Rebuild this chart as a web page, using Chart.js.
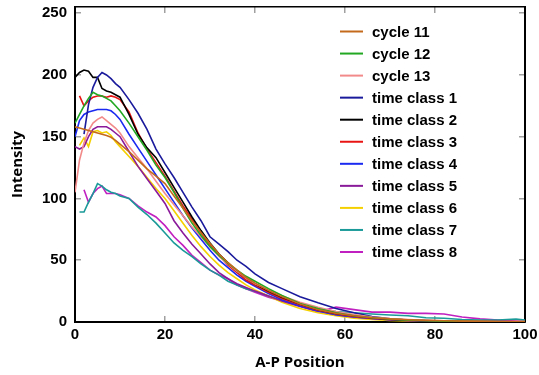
<html>
<head>
<meta charset="utf-8" />
<title>Intensity vs A-P Position</title>
<style>
  body { margin: 0; background: #fff; }
</style>
<script src="https://cdn.jsdelivr.net/npm/chart.js"></script>
</head>
<body>
<canvas id="apChart" width="539" height="375"></canvas>
<script>
// A-P positions shared by every series
const X = [0,1,2,3,4,5,6,7,8,9,10, 12,14,16,18,20,22,24,26,28,30,32,34,36,38,40,
           43,46,50,54,58,62,66,70,74,78,82,86,90,94,98,100];

const cycle11 = [158,157,156,155,154,153,152,151,149.5,147,144,
  138,131,124,118,112,102,92,82,72.5,63.5,55,48,42,36,31.5,
  25.5,20.5,14.5,10,7,5,3.5,2.5,1.8,1.3,1,0.7,0.5,0.4,0.3,0.3];
const cycle12 = [161,168,175,181,186,184,183,181,179,175,171,
  161,150,139,127,117,105,92,80,70,61,54,47.5,42,37,33,
  27,21.5,15,11,7.5,5,3.5,2.3,1.5,1,0.7,0.5,0.3,0.2,0.1,0.1];
const cycle13 = [105,131,145,155,161,164,166,163,160,157,153,
  142,133,124,114,104,95,86,77,69,61,53,47,41,36,31,
  26,21,16,12,8.5,6,4,2.8,2,1.4,1,0.7,0.5,0.4,0.3,0.3];
const timeClass1 = [null,null,152,176,190,198,202,200,197,193,190,
  180,169,156,140,128,117,105,93,82,69,63,57,50,45,39,
  32,27,20.5,15.5,11,7.5,4.5,2.5,1.5,1,0.6,0.4,0.3,0.2,0.1,0.1];
const timeClass2 = [198,202,204,203,198,198,189,187,186,184,182,
  168,152,141,133,121,109,97,85,74,64,55,48,41,36,31,
  25,20,14.5,10,7,5,3.5,2.3,1.6,1.1,0.8,0.5,0.4,0.3,0.2,0.2];
const timeClass3 = [null,183,175,179,182,183,183,182,183,182,180,
  170,153,140,129,118,106,94,83,72,62,54,46,40,34,30,
  24,19,14,9.5,6.5,4.5,3,2,1.3,0.9,0.6,0.4,0.3,0.2,0.1,0.1];
const timeClass4 = [150,163,168,170,171,172,172,172,171,168,164,
  152,141,130,119,108,97,86,76,67,58,50,44,38,33,29,
  23,18,13,9,6,4,2.8,1.8,1.2,0.8,0.5,0.3,0.2,0.1,0.1,0.1];
const timeClass5 = [142,140,142,150,156,158,158,158,156,153,150,
  138,126,116,106,96,82,72,63,55,47,40,35,31,28,25,
  21,17,12.5,9,6,4,2.8,1.8,1.2,0.8,0.5,0.3,0.2,0.1,0.1,0.1];
const timeClass6 = [null,143,149,142,154,155,153,154,151,146,142,
  134,126,117,108,100,90,80,70,61,53,46,40,35,30,26,
  21,16,11,7.5,5,3,2,1.2,0.8,0.5,0.3,0.2,0.1,0.1,0.1,0];
const timeClass7 = [null,89,89,97,104,112,110,107,105,104,102,
  100,93,87,80,72,64,58,53,47,42,38,33,30,27,25,
  21,17,14,10,8.5,7.5,6.5,5.7,5,3.5,3,2,1.6,1.6,2.4,1.5];
const timeClass8 = [null,null,107,97,104,108,110,104,104,104,103,
  100,94,89,85,78,69,62,54,48,42,38,35,30,27,24,
  20,17,13,8,12,10,8,8,7,7,6.5,4,2.5,1.6,0.8,0.5];

const seriesNames = ["cycle 11","cycle 12","cycle 13","time class 1","time class 2",
  "time class 3","time class 4","time class 5","time class 6","time class 7","time class 8"];
const seriesValues = [cycle11, cycle12, cycle13, timeClass1, timeClass2,
  timeClass3, timeClass4, timeClass5, timeClass6, timeClass7, timeClass8];
const seriesColors = ["#c46a1c","#22a822","#f28a8a","#1a1a9c","#000000",
  "#e81414","#1a2af0","#8a1a9a","#f5d000","#1a9a98","#c020c0"];

const yTicks = [0, 50, 100, 150, 200, 250];

const tickFont = { family: "'Liberation Sans', Arial, sans-serif", size: 15, weight: "bold" };
const titleFont = { family: "'Open Sans', sans-serif", size: 15, weight: "bold" };
const tickMarks = { drawOnChartArea: false, tickLength: -6, color: "#a0a0a0", lineWidth: 1.5 };
const setYTicks = (s) => { s.ticks = yTicks.map((v) => ({ value: v })); };

// legend drawn inside the plot, top right
const insideLegend = {
  id: "insideLegend",
  afterDatasetsDraw(chart) {
    const ctx = chart.ctx;
    ctx.save();
    ctx.font = "bold 15px 'Liberation Sans', Arial, sans-serif";
    ctx.textBaseline = "middle";
    ctx.fillStyle = "#000";
    chart.data.datasets.forEach((ds, i) => {
      const y = 31.5 + i * 22.05;
      ctx.strokeStyle = ds.borderColor;
      ctx.lineWidth = 2;
      ctx.beginPath();
      ctx.moveTo(340, y);
      ctx.lineTo(363, y);
      ctx.stroke();
      ctx.fillText(ds.label, 372, y + 1);
    });
    ctx.restore();
  }
};

new Chart(document.getElementById("apChart"), {
  type: "line",
  data: {
    datasets: seriesNames.map((name, i) => ({
      label: name,
      data: X.map((x, j) => ({ x: x, y: seriesValues[i][j] })),
      borderColor: seriesColors[i],
      borderWidth: 1.6,
      pointRadius: 0,
      tension: 0,
      fill: false
    }))
  },
  options: {
    responsive: false,
    animation: false,
    layout: { padding: 0 },
    plugins: { legend: { display: false }, tooltip: { enabled: false } },
    scales: {
      x: {
        type: "linear", position: "bottom", min: 0, max: 100,
        ticks: { stepSize: 20, font: tickFont, color: "#000", padding: 10, maxRotation: 0 },
        grid: tickMarks,
        border: { color: "#000", width: 2 },
        title: { display: true, text: "A-P Position", font: titleFont, color: "#000", padding: { top: 0, bottom: 3 } },
        afterFit: (s) => { s.height = 53; s.paddingLeft = 0; s.paddingRight = 0; }
      },
      y: {
        type: "linear", position: "left", min: 0, max: 255,
        afterBuildTicks: setYTicks,
        ticks: { font: tickFont, color: "#000", padding: 14 },
        grid: tickMarks,
        border: { color: "#000", width: 2 },
        title: { display: true, text: "Intensity", font: titleFont, color: "#000", padding: { top: 9, bottom: 0 } },
        afterFit: (s) => { s.width = 75; s.paddingTop = 0; s.paddingBottom = 0; }
      },
      x2: {
        type: "linear", position: "top", min: 0, max: 100,
        ticks: { display: false, stepSize: 20 },
        grid: tickMarks,
        border: { color: "#000", width: 1.5 },
        afterFit: (s) => { s.height = 7; }
      },
      y2: {
        type: "linear", position: "right", min: 0, max: 255,
        afterBuildTicks: setYTicks,
        ticks: { display: false },
        grid: tickMarks,
        border: { color: "#000", width: 2 },
        afterFit: (s) => { s.width = 14; }
      }
    }
  },
  plugins: [insideLegend]
});
</script>
</body>
</html>
